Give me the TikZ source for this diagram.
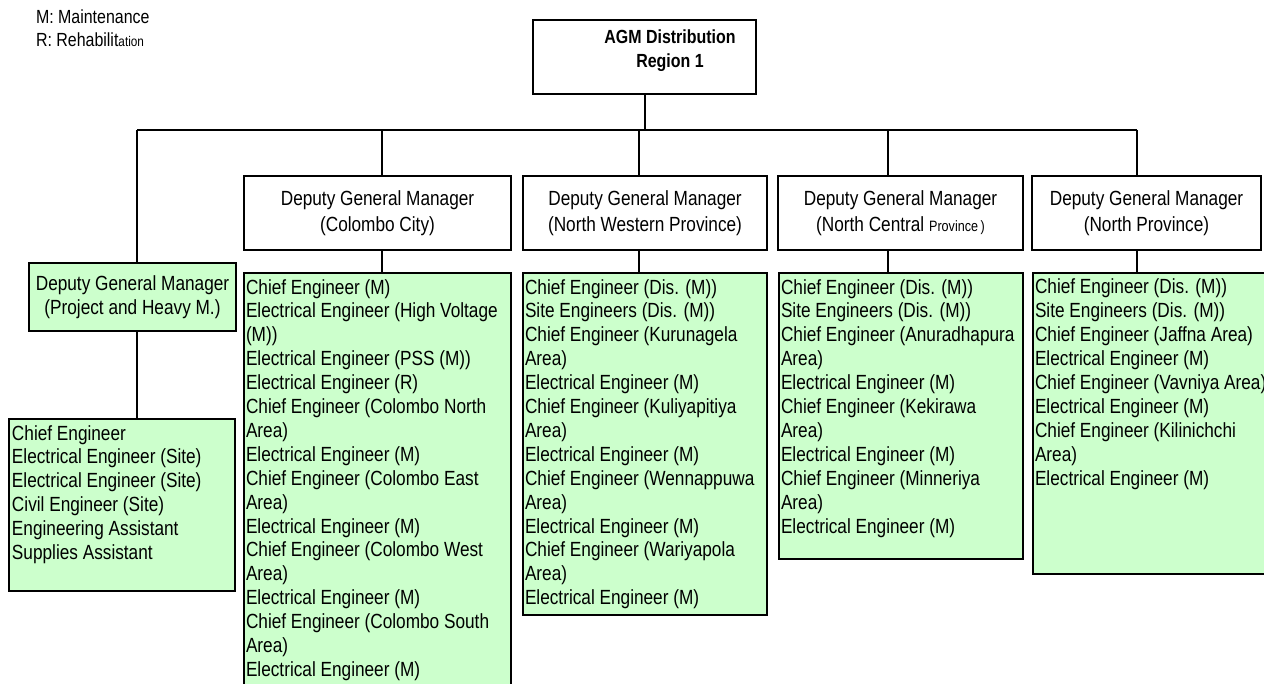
\documentclass[tikz,border=0pt]{standalone}
\usepackage{fontspec}
\setmainfont{Liberation Sans}[FakeStretch=0.84]
\usetikzlibrary{positioning, calc}
\definecolor{cgreen}{HTML}{CCFFCC}
\tikzset{
  every picture/.style={line width=2pt},
  box/.style={draw=black, fill=#1, inner sep=0pt, anchor=north west},
  box/.default=white,
  link/.style={draw=black, line width=2pt},
  head/.style={font=\fontsize{20.5}{26}\selectfont, align=center},
  list/.style={font=\fontsize{20.5}{23.9}\selectfont, align=left, inner sep=0pt, anchor=north west},
  key/.style={font=\fontsize{19}{22}\selectfont, inner sep=0pt, anchor=base west},
}
\newcommand{\firstline}{\rule{0pt}{21pt}}
\newcommand{\smalltxt}[1]{{\fontsize{15}{15}\selectfont #1}}

\begin{document}
\begin{tikzpicture}[x=1pt, y=-1pt,
  dgm/.style={box, head, minimum height=74pt},
  staff/.style={box=cgreen}]
  \useasboundingbox (0,0) rectangle (1264,684);

  \node[key] (keyM) at (35,24) {M: Maintenance};
  \node[key] (keyR) at (35,47) {R: Rehabilit{\fontsize{14}{14}\selectfont ation}};

  \node[box, minimum width=223pt, minimum height=74pt] (agm) at (532,19) {};
  \node[align=center, inner sep=0pt, font=\fontsize{19}{24}\selectfont\bfseries] (agmText) at (670,51) {AGM Distribution\\Region 1};

  \coordinate (busL) at (137,130);
  \coordinate (busR) at (1137,130);
  \coordinate (dCity) at (382,130);
  \coordinate (dWest) at (639,130);
  \coordinate (dCentral) at (888,130);

  \node[dgm, minimum width=267pt] (city) at (243,175) {Deputy General Manager\\(Colombo City)};
  \node[dgm, minimum width=244pt] (west) at (522,175) {Deputy General Manager\\(North Western Province)};
  \node[dgm, minimum width=245pt] (central) at (777,175) {Deputy General Manager\\(North Central \smalltxt{Province\,)}};
  \node[dgm, minimum width=229pt] (north) at (1031,175) {Deputy General Manager\\(North Province)};
  \node[dgm, staff, minimum width=207pt, minimum height=68pt, font=\fontsize{20.5}{24}\selectfont] (project) at (28,262) {Deputy General Manager\\(Project and Heavy M.)};

  \node[staff, minimum width=267pt, minimum height=428pt] (cityStaff) at (243,272) {};
  \node[staff, minimum width=244pt, minimum height=342pt] (westStaff) at (522,272) {};
  \node[staff, minimum width=244pt, minimum height=286pt] (centralStaff) at (778,272) {};
  \node[staff, minimum width=243pt, minimum height=301pt] (northStaff) at (1032,272) {};
  \node[staff, minimum width=226pt, minimum height=172pt] (projectStaff) at (8,418) {};

  \node[list] (cityText) at ($(cityStaff.north west)+(2,0)$) {\firstline Chief Engineer (M)\\Electrical Engineer (High Voltage\\(M))\\Electrical Engineer (PSS (M))\\Electrical Engineer (R)\\Chief Engineer (Colombo North\\Area)\\Electrical Engineer (M)\\Chief Engineer (Colombo East\\Area)\\Electrical Engineer (M)\\Chief Engineer (Colombo West\\Area)\\Electrical Engineer (M)\\Chief Engineer (Colombo South\\Area)\\Electrical Engineer (M)};
  \node[list] (westText) at ($(westStaff.north west)+(2,0)$) {\firstline Chief Engineer (Dis. (M))\\Site Engineers (Dis. (M))\\Chief Engineer (Kurunagela\\Area)\\Electrical Engineer (M)\\Chief Engineer (Kuliyapitiya\\Area)\\Electrical Engineer (M)\\Chief Engineer (Wennappuwa\\Area)\\Electrical Engineer (M)\\Chief Engineer (Wariyapola\\Area)\\Electrical Engineer (M)};
  \node[list] (centralText) at ($(centralStaff.north west)+(2,0)$) {\firstline Chief Engineer (Dis. (M))\\Site Engineers (Dis. (M))\\Chief Engineer (Anuradhapura\\Area)\\Electrical Engineer (M)\\Chief Engineer (Kekirawa\\Area)\\Electrical Engineer (M)\\Chief Engineer (Minneriya\\Area)\\Electrical Engineer (M)};
  \node[list] (northText) at ($(northStaff.north west)+(2,0)$) {\firstline Chief Engineer (Dis. (M))\\Site Engineers (Dis. (M))\\Chief Engineer (Jaffna Area)\\Electrical Engineer (M)\\Chief Engineer (Vavniya Area)\\Electrical Engineer (M)\\Chief Engineer (Kilinichchi\\Area)\\Electrical Engineer (M)};
  \node[list] (projectText) at ($(projectStaff.north west)+(3,0)$) {\firstline Chief Engineer\\Electrical Engineer (Site)\\Electrical Engineer (Site)\\Civil Engineer (Site)\\Engineering Assistant\\Supplies Assistant};

  \draw[link] (agm.south) -- (agm.south |- busL);
  \draw[link] (busL) -- (busR);
  \draw[link] (busL) -- (busL |- project.north);
  \draw[link] (dCity) -- (dCity |- city.north);
  \draw[link] (dWest) -- (dWest |- west.north);
  \draw[link] (dCentral) -- (dCentral |- central.north);
  \draw[link] (busR) -- (busR |- north.north);
  \draw[link] (project.south -| busL) -- (projectStaff.north -| busL);
  \draw[link] (city.south -| dCity) -- (cityStaff.north -| dCity);
  \draw[link] (west.south -| dWest) -- (westStaff.north -| dWest);
  \draw[link] (central.south -| dCentral) -- (centralStaff.north -| dCentral);
  \draw[link] (north.south -| busR) -- (northStaff.north -| busR);
\end{tikzpicture}
\end{document}
